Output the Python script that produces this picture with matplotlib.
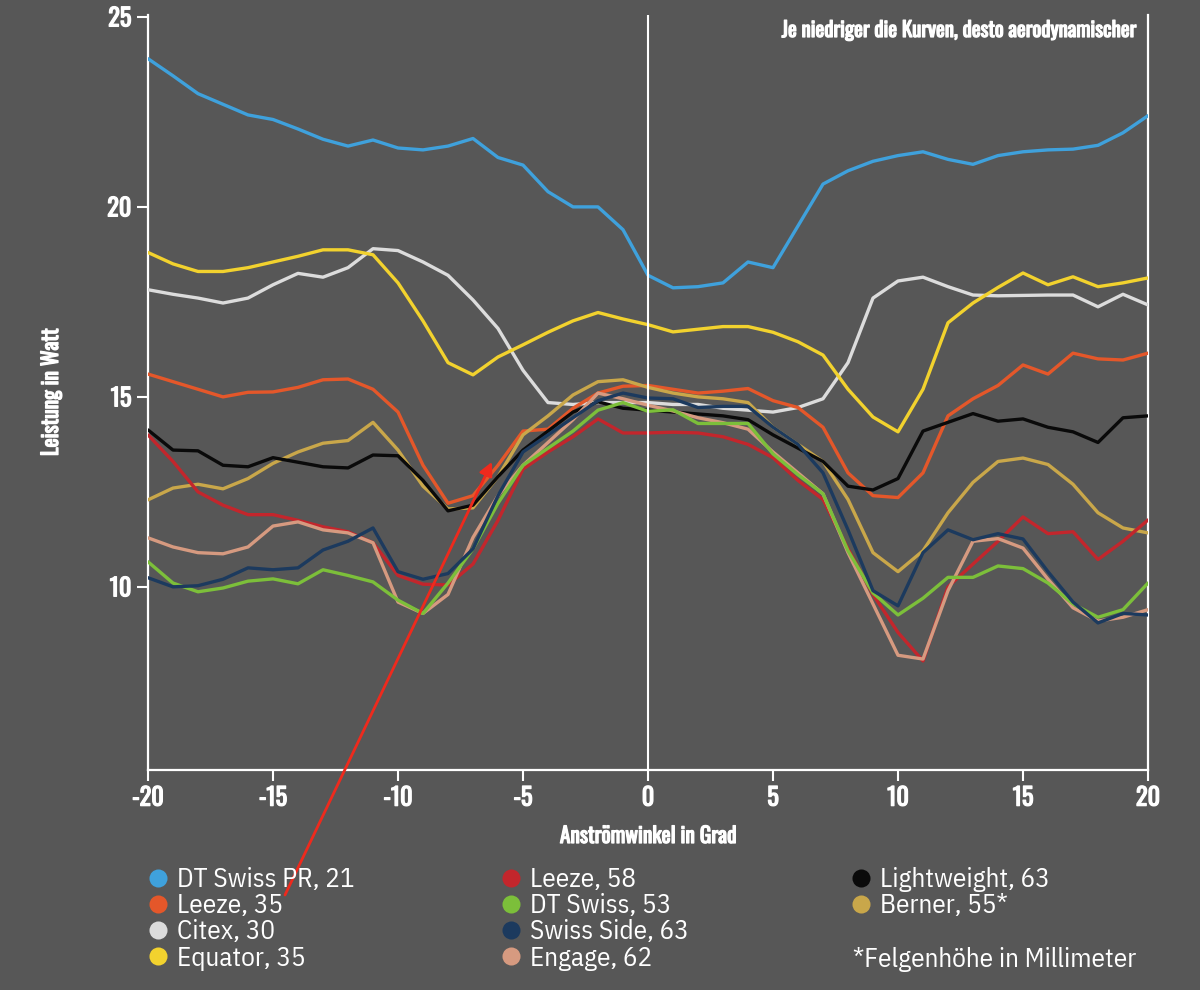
import matplotlib
matplotlib.use("Agg")
import matplotlib.pyplot as plt
from matplotlib.lines import Line2D
import matplotlib.patheffects as pe

angles = list(range(-20, 21))

dt_swiss_pr_21 = [23.9, 23.45, 22.98, 22.7, 22.42, 22.3, 22.05, 21.78, 21.6, 21.76,
                  21.55, 21.5, 21.6, 21.8, 21.3, 21.1, 20.4, 20.0, 20.0, 19.4,
                  18.2, 17.87, 17.9, 18.0, 18.55, 18.4, 19.5, 20.6, 20.95, 21.2,
                  21.35, 21.45, 21.25, 21.12, 21.35, 21.45, 21.5, 21.52, 21.62, 21.95, 22.4]
leeze_35 = [15.6, 15.4, 15.2, 15.0, 15.12, 15.13, 15.25, 15.45, 15.47, 15.2,
            14.6, 13.2, 12.2, 12.4, 13.2, 14.1, 14.15, 14.7, 15.1, 15.28,
            15.3, 15.2, 15.1, 15.15, 15.22, 14.9, 14.72, 14.2, 13.0, 12.4,
            12.35, 13.0, 14.5, 14.95, 15.3, 15.84, 15.6, 16.15, 16.0, 15.97, 16.15]
citex_30 = [17.82, 17.7, 17.6, 17.47, 17.6, 17.95, 18.25, 18.15, 18.4, 18.9,
            18.85, 18.55, 18.2, 17.55, 16.8, 15.7, 14.85, 14.8, 14.85, 14.85,
            14.85, 14.8, 14.8, 14.7, 14.65, 14.6, 14.72, 14.95, 15.9, 17.6,
            18.05, 18.15, 17.9, 17.68, 17.66, 17.67, 17.68, 17.68, 17.37, 17.7, 17.42]
equator_35 = [18.8, 18.5, 18.3, 18.3, 18.4, 18.55, 18.7, 18.87, 18.87, 18.74,
              18.0, 17.0, 15.9, 15.58, 16.05, 16.37, 16.7, 17.0, 17.22, 17.05,
              16.9, 16.71, 16.78, 16.85, 16.85, 16.7, 16.45, 16.1, 15.2, 14.47,
              14.08, 15.2, 16.95, 17.47, 17.88, 18.26, 17.95, 18.16, 17.9, 18.0, 18.13]
leeze_58 = [14.0, 13.3, 12.5, 12.15, 11.9, 11.9, 11.75, 11.58, 11.45, 11.16,
            10.3, 10.07, 10.05, 10.6, 11.75, 13.1, 13.55, 13.95, 14.42, 14.05,
            14.05, 14.07, 14.05, 13.95, 13.75, 13.4, 12.8, 12.3, 11.0, 9.8,
            8.8, 8.05, 10.0, 10.6, 11.2, 11.84, 11.4, 11.45, 10.72, 11.2, 11.76]
dt_swiss_53 = [10.66, 10.1, 9.87, 9.97, 10.15, 10.21, 10.08, 10.45, 10.3, 10.13,
               9.65, 9.3, 10.1, 11.0, 12.2, 13.2, 13.65, 14.1, 14.65, 14.85,
               14.62, 14.66, 14.3, 14.3, 14.3, 13.5, 12.95, 12.45, 10.95, 9.84,
               9.26, 9.7, 10.25, 10.25, 10.55, 10.48, 10.1, 9.55, 9.2, 9.4, 10.1]
swiss_side_63 = [10.24, 10.0, 10.03, 10.2, 10.5, 10.45, 10.5, 10.97, 11.2, 11.55,
                 10.4, 10.2, 10.35, 11.0, 12.4, 13.55, 14.0, 14.45, 14.9, 15.1,
                 14.97, 14.95, 14.72, 14.75, 14.75, 14.2, 13.75, 13.0, 11.5, 9.9,
                 9.5, 10.9, 11.5, 11.24, 11.4, 11.26, 10.4, 9.6, 9.05, 9.3, 9.26]
engage_62 = [11.29, 11.05, 10.9, 10.87, 11.05, 11.6, 11.71, 11.5, 11.42, 11.16,
             9.6, 9.3, 9.8, 11.3, 12.4, 13.2, 13.8, 14.4, 15.1, 14.95,
             14.78, 14.63, 14.45, 14.32, 14.15, 13.55, 13.0, 12.45, 10.9, 9.55,
             8.2, 8.1, 9.9, 11.2, 11.27, 11.02, 10.2, 9.45, 9.1, 9.2, 9.4]
lightweight_63 = [14.13, 13.6, 13.58, 13.2, 13.16, 13.4, 13.28, 13.16, 13.13, 13.47,
                  13.45, 12.8, 12.0, 12.15, 12.9, 13.6, 14.1, 14.6, 14.87, 14.7,
                  14.65, 14.6, 14.55, 14.5, 14.4, 14.0, 13.65, 13.3, 12.65, 12.55,
                  12.85, 14.1, 14.33, 14.56, 14.36, 14.42, 14.2, 14.08, 13.8, 14.45, 14.5]
berner_55 = [12.29, 12.6, 12.7, 12.58, 12.85, 13.25, 13.55, 13.78, 13.85, 14.33,
             13.6, 12.65, 12.05, 12.08, 12.9, 14.0, 14.5, 15.05, 15.4, 15.45,
             15.25, 15.1, 15.0, 14.95, 14.85, 14.2, 13.75, 13.3, 12.3, 10.9,
             10.4, 10.95, 11.95, 12.75, 13.3, 13.39, 13.22, 12.7, 11.95, 11.55, 11.42]

series_labels = ["DT Swiss PR, 21", "Leeze, 35", "Citex, 30", "Equator, 35",
                 "Leeze, 58", "DT Swiss, 53", "Swiss Side, 63", "Engage, 62",
                 "Lightweight, 63", "Berner, 55*"]
series_values = [dt_swiss_pr_21, leeze_35, citex_30, equator_35,
                 leeze_58, dt_swiss_53, swiss_side_63, engage_62,
                 lightweight_63, berner_55]
series_colors = ["#3fa1dc", "#e4572a", "#dcdcdc", "#f2d22e",
                 "#c3262c", "#7cbf3a", "#1c3a5e", "#d69a80",
                 "#0a0a0a", "#c9a74a"]

x_ticks = [-20, -15, -10, -5, 0, 5, 10, 15, 20]
y_ticks = [10, 15, 20, 25]

BG = "#575757"
COND = ["Oswald", "DejaVu Sans"]
LEGF = ["IBM Plex Sans Condensed", "DejaVu Sans"]
BOLDEN = [pe.withStroke(linewidth=0.9, foreground="white")]

fig = plt.figure(figsize=(12, 9.9), dpi=100, facecolor=BG)
ax = fig.add_axes([148 / 1200, 1 - 770 / 990, 1000 / 1200, 755 / 990])
ax.set_facecolor(BG)

draw_order = [2, 3, 0, 1, 9, 8, 4, 7, 5, 6]
for i in draw_order:
    ax.plot(angles, series_values[i], color=series_colors[i], lw=2.4,
            solid_joinstyle="round", solid_capstyle="round", zorder=3)

ax.axvline(0, color="white", lw=1.5, zorder=5)

ax.set_xlim(-20, 20)
ax.set_ylim(5.18, 25.05)
ax.set_xticks(x_ticks)
ax.set_yticks(y_ticks)
ax.set_xticklabels([str(t) for t in x_ticks])
ax.set_yticklabels([str(t) for t in y_ticks])

ax.spines["top"].set_visible(False)
for side in ["left", "right", "bottom"]:
    ax.spines[side].set_color("white")
    ax.spines[side].set_linewidth(1.6)

ax.tick_params(axis="both", colors="white", length=8, width=1.5, direction="out",
               labelsize=17.5, pad=4)
for lab in ax.get_xticklabels() + ax.get_yticklabels():
    lab.set_family(COND)
    lab.set_color("white")
    lab.set_path_effects(BOLDEN)

xl = ax.set_xlabel("Anströmwinkel in Grad", color="white", fontsize=15.5, family=COND)
yl = ax.set_ylabel("Leistung in Watt", color="white", fontsize=15.5, family=COND)
xl.set_path_effects(BOLDEN)
yl.set_path_effects(BOLDEN)
ax.xaxis.set_label_coords(0.5, -(825 - 770) / 755)
ax.yaxis.set_label_coords(-(148 - 62) / 1000, 0.5)

note = ax.text(0.987, 0.9934, "Je niedriger die Kurven, desto aerodynamischer",
               transform=ax.transAxes, ha="right", va="top", color="white",
               fontsize=15, family=COND)
note.set_path_effects(BOLDEN)

# red arrow annotation
ax.annotate("", xy=(-6.24, 13.29), xycoords="data",
            xytext=(285 / 1200, 1 - 895 / 990), textcoords="figure fraction",
            arrowprops=dict(arrowstyle="-|>", color="#ee2a1d", lw=2,
                            mutation_scale=20, shrinkA=0, shrinkB=0),
            annotation_clip=False, zorder=10)

# legends: three columns
col_idx = [[0, 1, 2, 3], [4, 5, 6, 7], [8, 9]]
col_x = [148, 501, 851]
for cols, cx in zip(col_idx, col_x):
    handles = [Line2D([], [], ls="none", marker="o", markersize=13,
                      markerfacecolor=series_colors[i], markeredgecolor="none")
               for i in cols]
    labels = [series_labels[i] for i in cols]
    leg = fig.legend(handles, labels, loc="upper left",
                     bbox_to_anchor=(cx / 1200, 1 - 867 / 990),
                     frameon=False, handlelength=0.75, handletextpad=0.32,
                     labelspacing=0.045, borderpad=0, borderaxespad=0,
                     prop={"family": LEGF, "size": 19.5})
    for t in leg.get_texts():
        t.set_color("white")

fig.text(853 / 1200, 1 - 960 / 990, "*Felgenhöhe in Millimeter", color="white",
         fontsize=19.5, family=LEGF, ha="left", va="center")

fig.savefig("out.png", dpi=100, facecolor=BG)
